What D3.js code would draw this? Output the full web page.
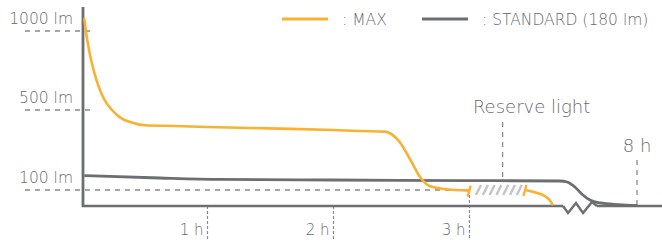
<!DOCTYPE html>
<html>
<head>
<meta charset="utf-8">
<script src="https://cdn.jsdelivr.net/npm/d3@7"></script>
<style>
  body { margin: 0; background: #fff; }
  svg { display: block; font-family: "DejaVu Sans", sans-serif; font-weight: 200; }
  .lbl { fill: #6a6a6a; }
</style>
</head>
<body>
<svg id="chart" width="662" height="242"></svg>
<script>
// hours / lumen pairs
var maxHours = [0.01, 0.024, 0.04, 0.073, 0.105, 0.137, 0.177, 0.234, 0.298, 0.379, 0.5, 0.742, 1, 1.58, 2, 2.2, 2.38, 2.49, 2.57, 2.64, 2.71, 2.82, 3.02];
var maxLumen = [1082, 994, 918, 791, 699, 627, 559, 500, 463, 440, 424, 420, 415, 407, 400, 395, 392, 340, 250, 165, 120, 105, 96];
var reserveHours = [4.68, 4.9, 5.2, 5.4, 5.5];
var reserveLumen = [100, 89, 69, 37, 4];
var stdHours = [0.01, 0.62, 1.1, 2, 3, 5.71, 5.92, 6.15, 6.39, 6.6, 6.9, 7.46, 8];
var stdLumen = [172, 160, 153, 150, 147, 145, 140, 115, 69, 37, 19, 9, 3];

var lumenTicks = [100, 500, 1000];
var lumenLabels = ["100 lm", "500 lm", "1000 lm"];
var hourTicks = [1, 2, 3];
var hourLabels = ["1 h", "2 h", "3 h"];
var legendLabels = [": MAX", ": STANDARD (180 lm)"];

var orange = "#f9b132";
var grey = "#6d6e71";
var dashGrey = "#8a8a8a";

var svg = d3.select("#chart");

// schematic axes: piecewise scales
var x = d3.scaleLinear().domain([0, 1, 2, 3, 8]).range([83, 207, 333, 469, 637]);
var y = d3.scaleLinear().domain([0, 100, 500, 1000]).range([206, 190, 110, 31]);
var y0 = y(0);

var line = d3.line()
    .curve(d3.curveMonotoneX)
    .x(function(d) { return x(d[0]); })
    .y(function(d) { return y(d[1]); });

var maxData = d3.zip(maxHours, maxLumen);
var reserveData = d3.zip(reserveHours, reserveLumen);
var stdData = d3.zip(stdHours, stdLumen);

// y guide lines
svg.selectAll(".ydash")
    .data(lumenTicks)
    .enter().append("line")
    .attr("class", "ydash")
    .attr("x1", 25)
    .attr("x2", function(d) { return d == 100 ? x(3) : 94; })
    .attr("y1", function(d) { return y(d); })
    .attr("y2", function(d) { return y(d); })
    .style("stroke", dashGrey)
    .style("stroke-width", 1.3)
    .style("stroke-dasharray", "5,5");

svg.selectAll(".ylbl")
    .data(lumenTicks)
    .enter().append("text")
    .attr("class", "lbl ylbl")
    .attr("x", 73)
    .attr("y", function(d) { return y(d) - 7; })
    .attr("text-anchor", "end")
    .style("font-size", "15.5px")
    .text(function(d, i) { return lumenLabels[i]; });

// x axis ticks (dashed, label left of tick)
var xAxis = d3.axisBottom(x)
    .tickValues(hourTicks)
    .tickSize(34)
    .tickFormat(function(d, i) { return hourLabels[i]; });

var gx = svg.append("g")
    .attr("transform", "translate(0," + y0 + ")")
    .call(xAxis);
gx.select(".domain").remove();
gx.selectAll(".tick line")
    .attr("y1", function(d) { return d == 3 ? y(100) - y0 : 0; })
    .style("stroke", dashGrey)
    .style("stroke-width", 1.2)
    .style("stroke-dasharray", "3,2");
gx.selectAll(".tick text")
    .attr("x", -4)
    .attr("y", 29)
    .attr("dy", 0)
    .attr("text-anchor", "end")
    .attr("fill", "#6a6a6a")
    .style("font-family", "'DejaVu Sans', sans-serif")
    .style("font-weight", 200)
    .style("font-size", "15px");

// reserve light marker
svg.append("line")
    .attr("x1", x(4.0)).attr("x2", x(4.0))
    .attr("y1", 122).attr("y2", y(150) + 1)
    .style("stroke", dashGrey)
    .style("stroke-width", 1.3)
    .style("stroke-dasharray", "5,5");
svg.append("text")
    .attr("class", "lbl")
    .attr("x", x(4.0) + 29)
    .attr("y", 113)
    .attr("text-anchor", "middle")
    .style("font-size", "18px")
    .text("Reserve light");

// 8 h marker
svg.append("line")
    .attr("x1", x(8)).attr("x2", x(8))
    .attr("y1", 160).attr("y2", y0)
    .style("stroke", dashGrey)
    .style("stroke-width", 1.3)
    .style("stroke-dasharray", "5,5");
svg.append("text")
    .attr("class", "lbl")
    .attr("x", x(8))
    .attr("y", 152)
    .attr("text-anchor", "middle")
    .style("font-size", "18px")
    .text("8 h");

// hatch for reserve period
var hatchStart = x(3) + 7, hatchEnd = x(reserveHours[0]) - 6;
svg.append("g").selectAll("line")
    .data(d3.range(hatchStart, hatchEnd, 6.8))
    .enter().append("line")
    .attr("x1", function(d) { return d; })
    .attr("x2", function(d) { return d + 5; })
    .attr("y1", y(100) + 5)
    .attr("y2", y(100) - 5)
    .style("stroke", "#c4c4c4")
    .style("stroke-width", 2.4);

// axes
var breakL = 563, breakR = 597;
svg.append("line")
    .attr("x1", 83).attr("x2", 83).attr("y1", 7).attr("y2", y0 + 1)
    .style("stroke", grey).style("stroke-width", 2.8);
svg.append("line")
    .attr("x1", 82).attr("x2", breakL).attr("y1", y0).attr("y2", y0)
    .style("stroke", grey).style("stroke-width", 2.6);
svg.append("line")
    .attr("x1", breakR).attr("x2", 662).attr("y1", y0).attr("y2", y0)
    .style("stroke", grey).style("stroke-width", 2.6);
svg.append("path")
    .attr("d", "M" + breakL + "," + y0 + " l5,7 l8,-10 l7,10 l9,-11 l5,4")
    .style("fill", "none").style("stroke", grey).style("stroke-width", 2.4)
    .style("stroke-linejoin", "miter");

// standard curve
svg.append("path")
    .datum(stdData)
    .attr("d", line)
    .style("fill", "none")
    .style("stroke", grey)
    .style("stroke-width", 2.8);

// max curves
svg.append("path")
    .datum(maxData)
    .attr("d", line)
    .style("fill", "none")
    .style("stroke", orange)
    .style("stroke-width", 2.6);
svg.append("path")
    .datum(reserveData)
    .attr("d", line)
    .style("fill", "none")
    .style("stroke", orange)
    .style("stroke-width", 2.6);

// end ticks on the max curve
var endTicks = [maxData[maxData.length - 1], reserveData[0]];
svg.selectAll(".etick")
    .data(endTicks)
    .enter().append("line")
    .attr("x1", function(d) { return x(d[0]) - 2; })
    .attr("x2", function(d) { return x(d[0]) + 1; })
    .attr("y1", function(d) { return y(d[1]) + 6; })
    .attr("y2", function(d) { return y(d[1]) - 5; })
    .style("stroke", orange)
    .style("stroke-width", 2.4);

// legend
var legend = svg.selectAll(".leg")
    .data(legendLabels)
    .enter().append("g")
    .attr("class", "leg")
    .attr("transform", function(d, i) { return "translate(" + (i == 0 ? 282 : 422) + ",19)"; });
legend.append("line")
    .attr("x1", 0).attr("x2", 46)
    .style("stroke", function(d, i) { return i == 0 ? orange : grey; })
    .style("stroke-width", 2.8);
legend.append("text")
    .attr("class", "lbl")
    .attr("x", 60)
    .attr("y", 6)
    .style("font-size", "15.5px")
    .text(function(d) { return d; });
</script>
</body>
</html>
